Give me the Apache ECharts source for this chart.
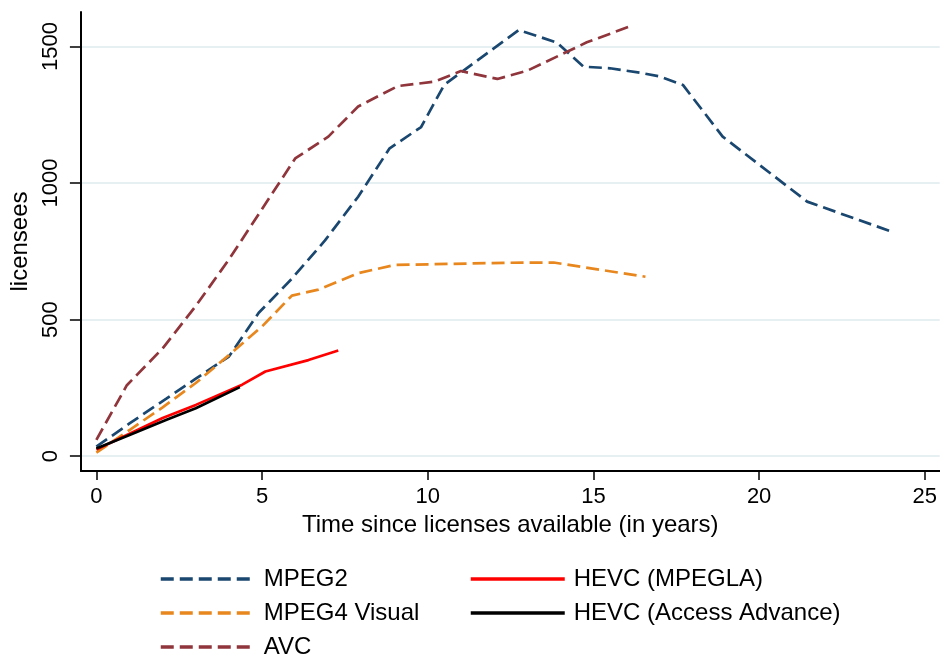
<!DOCTYPE html>
<html>
<head>
<meta charset="utf-8">
<title>Licensees over time</title>
<script src="https://cdn.jsdelivr.net/npm/echarts@6/dist/echarts.min.js"></script>
<style>
  html, body { margin: 0; padding: 0; background: #fff; }
  #chart { width: 940px; height: 658px; }
</style>
</head>
<body>
<div id="chart"></div>
<script>
// Years since licenses became available, and number of licensees per pool
const mpeg2Years = [0, 1, 2.1, 3, 4, 4.9, 5.9, 6.9, 7.9, 8.85, 9.8, 10.5, 12.75, 13.9, 14.7, 15.5, 16.4, 17.0, 17.7, 18.9, 21.45, 24.0];
const mpeg2Licensees = [35, 120, 210, 284, 365, 525, 650, 790, 950, 1127, 1205, 1360, 1560, 1514, 1426, 1420, 1404, 1390, 1359, 1170, 932, 822];

const mpeg4Years = [0, 1, 2, 3, 4, 5, 5.9, 6.7, 7.9, 9.0, 10.7, 12.3, 13.8, 16.57];
const mpeg4Licensees = [13, 96, 179, 268, 370, 475, 588, 610, 670, 700, 704, 708, 709, 657];

const avcYears = [0, 0.92, 2, 3, 4, 5, 6.0, 7.0, 7.9, 9.1, 10.2, 11.0, 12.1, 13.0, 14.8, 16.07];
const avcLicensees = [60, 260, 395, 550, 720, 905, 1090, 1170, 1280, 1355, 1371, 1410, 1381, 1411, 1515, 1572];

const hevcMpeglaYears = [0, 1, 2, 3, 4.4, 5.1, 6.4, 7.3];
const hevcMpeglaLicensees = [25, 82, 140, 188, 262, 310, 352, 387];

const hevcAccessYears = [0, 1, 2.1, 3, 4.33];
const hevcAccessLicensees = [28, 78, 133, 176, 253];

const xTicks = [0, 5, 10, 15, 20, 25];
const yTicks = [0, 500, 1000, 1500];

const seriesNames = ['MPEG2', 'MPEG4 Visual', 'AVC', 'HEVC (MPEGLA)', 'HEVC (Access Advance)'];

const FONT = "'Liberation Sans', Arial, sans-serif";

function pairs(xs, ys) {
  return xs.map((x, i) => [x, ys[i]]);
}

function lineSeries(name, xs, ys, color, dashed) {
  return {
    name: name,
    type: 'line',
    data: pairs(xs, ys),
    showSymbol: false,
    symbol: 'none',
    smooth: false,
    lineStyle: {
      color: color,
      width: 2.7,
      type: dashed ? [13, 6] : 'solid'
    },
    itemStyle: { color: color },
    emphasis: { disabled: true },
    z: 3
  };
}

const chart = echarts.init(document.getElementById('chart'), null, { renderer: 'canvas' });

const legendCommon = {
  orient: 'vertical',
  itemWidth: 94,
  itemHeight: 24,
  itemGap: 10,
  height: 120,
  lineStyle: { width: 3.5 },
  itemStyle: { opacity: 0 },
  textStyle: {
    fontFamily: FONT,
    fontSize: 24,
    color: '#000',
    lineHeight: 24,
    padding: [0, 0, 0, 4]
  },
  selectedMode: false
};

chart.setOption({
  animation: false,
  backgroundColor: '#fff',
  textStyle: { fontFamily: FONT },
  grid: { left: 79, right: 0, top: 12, bottom: 187, containLabel: false },
  xAxis: {
    type: 'value',
    min: -0.467,
    max: 25.45,
    name: 'Time since licenses available (in years)',
    nameLocation: 'middle',
    nameGap: 40,
    nameTextStyle: { fontFamily: FONT, fontSize: 24, color: '#000' },
    axisLine: { show: true, onZero: false, lineStyle: { color: '#000', width: 2 } },
    axisTick: { show: true, length: 9, customValues: xTicks, lineStyle: { color: '#000', width: 1.5 } },
    axisLabel: { customValues: xTicks, fontSize: 22, color: '#000', margin: 15, fontFamily: FONT,
                 formatter: v => String(v) },
    splitLine: { show: false }
  },
  yAxis: {
    type: 'value',
    min: -54,
    max: 1626,
    name: 'licensees',
    nameLocation: 'middle',
    nameGap: 40,
    nameTextStyle: { fontFamily: FONT, fontSize: 24, color: '#000' },
    axisLine: { show: true, onZero: false, lineStyle: { color: '#000', width: 2 } },
    axisTick: { show: true, length: 11, customValues: yTicks, lineStyle: { color: '#000', width: 1.5 } },
    axisLabel: { customValues: yTicks, rotate: 90, fontSize: 22, color: '#000', margin: 19, fontFamily: FONT,
                 formatter: v => String(v) },
    splitLine: { show: true, lineStyle: { color: '#e6eff2', width: 2 } }
  },
  legend: [
    Object.assign({}, legendCommon, { left: 154, top: 562, data: seriesNames.slice(0, 3) }),
    Object.assign({}, legendCommon, { left: 464, top: 562, data: seriesNames.slice(3) })
  ],
  series: [
    lineSeries(seriesNames[0], mpeg2Years, mpeg2Licensees, '#1a476f', true),
    lineSeries(seriesNames[1], mpeg4Years, mpeg4Licensees, '#e8871e', true),
    lineSeries(seriesNames[2], avcYears, avcLicensees, '#90353b', true),
    lineSeries(seriesNames[3], hevcMpeglaYears, hevcMpeglaLicensees, '#ff0000', false),
    lineSeries(seriesNames[4], hevcAccessYears, hevcAccessLicensees, '#000000', false)
  ]
});
</script>
</body>
</html>
